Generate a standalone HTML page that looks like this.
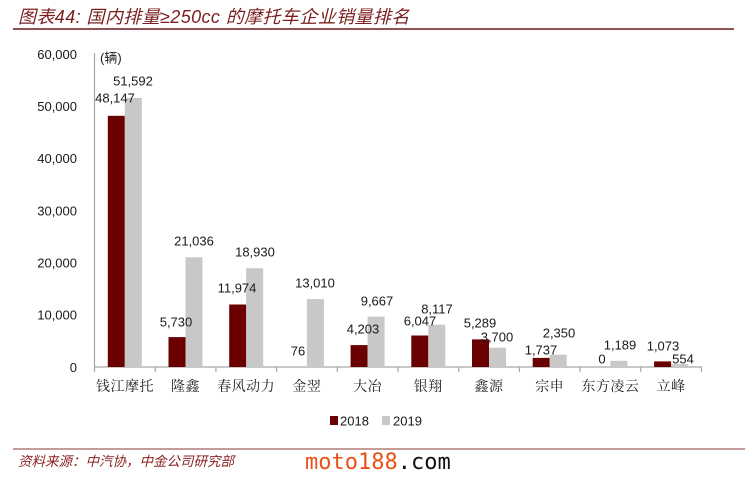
<!DOCTYPE html>
<html><head><meta charset="utf-8"><style>
html,body{margin:0;padding:0;background:#fff;}
body{width:756px;height:484px;overflow:hidden;}
svg{display:block;}
.t{font-family:"Liberation Sans","Noto Sans CJK SC",sans-serif;font-size:13px;fill:#1a1a1a;}
.c{font-family:"Noto Serif CJK SC","Liberation Serif",serif;font-size:14px;fill:#222;letter-spacing:0.5px;}
</style></head><body>
<svg width="756" height="484" viewBox="0 0 756 484" xmlns="http://www.w3.org/2000/svg">
<text x="18" y="23" font-family="Liberation Sans, Noto Sans CJK SC, sans-serif" font-size="18" font-style="italic" letter-spacing="0.4" fill="#7a1f1f">图表44: 国内排量≥250cc 的摩托车企业销量排名</text>
<line x1="13" y1="29" x2="734" y2="29" stroke="#6b1a1a" stroke-width="1.5"/>

<g class="t" text-anchor="end">
<text x="77" y="58.8">60,000</text>
<text x="77" y="111">50,000</text>
<text x="77" y="163.2">40,000</text>
<text x="77" y="215.3">30,000</text>
<text x="77" y="267.5">20,000</text>
<text x="77" y="319.7">10,000</text>
<text x="77" y="371.8">0</text>
</g>
<text class="t" x="100" y="62.5">(辆)</text>

<line x1="94.5" y1="53" x2="94.5" y2="367" stroke="#a6a6a6" stroke-width="1.2"/>
<line x1="94.5" y1="367" x2="702" y2="367" stroke="#a6a6a6" stroke-width="1.2"/>
<g stroke="#a6a6a6" stroke-width="1.2">
<line x1="94.5" y1="367" x2="94.5" y2="372"/>
<line x1="155.2" y1="367" x2="155.2" y2="372"/>
<line x1="215.9" y1="367" x2="215.9" y2="372"/>
<line x1="276.6" y1="367" x2="276.6" y2="372"/>
<line x1="337.3" y1="367" x2="337.3" y2="372"/>
<line x1="398" y1="367" x2="398" y2="372"/>
<line x1="458.7" y1="367" x2="458.7" y2="372"/>
<line x1="519.4" y1="367" x2="519.4" y2="372"/>
<line x1="580.1" y1="367" x2="580.1" y2="372"/>
<line x1="640.8" y1="367" x2="640.8" y2="372"/>
<line x1="701.5" y1="367" x2="701.5" y2="372"/>
</g>

<g fill="#6b0000">
<rect x="107.8" y="115.8" width="17" height="251.2"/>
<rect x="168.5" y="337.1" width="17" height="29.9"/>
<rect x="229.2" y="304.5" width="17" height="62.5"/>
<rect x="289.9" y="366.6" width="17" height="0.4" fill="#c8a0a0"/>
<rect x="350.6" y="345.1" width="17" height="21.9"/>
<rect x="411.3" y="335.5" width="17" height="31.5"/>
<rect x="472" y="339.4" width="17" height="27.6"/>
<rect x="532.7" y="357.9" width="17" height="9.1"/>
<rect x="654.1" y="361.4" width="17" height="5.6"/>
</g>
<g fill="#c8c8c8">
<rect x="124.8" y="97.9" width="17" height="269.1"/>
<rect x="185.5" y="257.3" width="17" height="109.7"/>
<rect x="246.2" y="268.2" width="17" height="98.8"/>
<rect x="306.9" y="299.1" width="17" height="67.9"/>
<rect x="367.6" y="316.6" width="17" height="50.4"/>
<rect x="428.3" y="324.7" width="17" height="42.3"/>
<rect x="489" y="347.7" width="17" height="19.3"/>
<rect x="549.7" y="354.7" width="17" height="12.3"/>
<rect x="610.4" y="360.8" width="17" height="6.2"/>
<rect x="671.1" y="364.1" width="17" height="2.9"/>
</g>

<g class="t" text-anchor="middle">
<text x="115" y="102.5">48,147</text>
<text x="133" y="85.5">51,592</text>
<text x="176" y="326.5">5,730</text>
<text x="194" y="245.5">21,036</text>
<text x="237" y="292.5">11,974</text>
<text x="255" y="256.5">18,930</text>
<text x="298" y="355.5">76</text>
<text x="315" y="287.5">13,010</text>
<text x="363" y="333.5">4,203</text>
<text x="377" y="305.5">9,667</text>
<text x="420" y="325.5">6,047</text>
<text x="437" y="313.5">8,117</text>
<text x="480" y="327.5">5,289</text>
<text x="497" y="341.5">3,700</text>
<text x="541" y="354.5">1,737</text>
<text x="559" y="337.5">2,350</text>
<text x="602" y="363.5">0</text>
<text x="620" y="349.5">1,189</text>
<text x="663" y="350.5">1,073</text>
<text x="683" y="363.5">554</text>
</g>

<g class="c" text-anchor="middle">
<text x="125" y="391">钱江摩托</text>
<text x="185.5" y="391">隆鑫</text>
<text x="246.2" y="391">春风动力</text>
<text x="306.9" y="391">金翌</text>
<text x="367.6" y="391">大冶</text>
<text x="428.3" y="391">银翔</text>
<text x="489" y="391">鑫源</text>
<text x="549.7" y="391">宗申</text>
<text x="610.4" y="391">东方凌云</text>
<text x="671.1" y="391">立峰</text>
</g>

<rect x="330" y="416" width="8" height="9" fill="#6b0000"/>
<text class="t" x="340" y="425.5">2018</text>
<rect x="382" y="416" width="8" height="9" fill="#c8c8c8"/>
<text class="t" x="393" y="425.5">2019</text>

<line x1="13" y1="449" x2="745" y2="449" stroke="#8b3a3a" stroke-width="1"/>
<text x="18" y="466" font-family="Liberation Sans, Noto Sans CJK SC, sans-serif" font-size="13.5" font-style="italic" fill="#8b2323">资料来源：中汽协，中金公司研究部</text>
<text x="305" y="469" font-family="DejaVu Sans Mono, Liberation Mono, monospace" font-size="22"><tspan fill="#e8501a">moto188</tspan><tspan fill="#111">.com</tspan></text>
</svg>
</body></html>
